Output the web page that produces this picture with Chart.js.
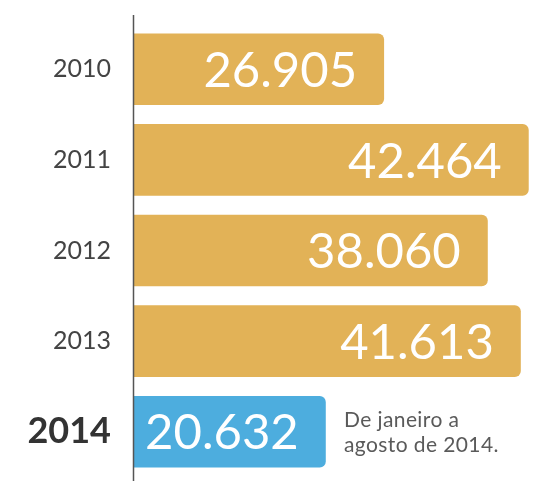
<!DOCTYPE html>
<html>
<head>
<meta charset="utf-8">
<script src="https://cdn.jsdelivr.net/npm/chart.js@4"></script>
<style>
  html, body { margin: 0; padding: 0; background: #fff; }
  #wrap { width: 543px; height: 481px; position: relative; }
</style>
</head>
<body>
<div id="wrap"><canvas id="chart"></canvas></div>
<script>
const years = ['2010', '2011', '2012', '2013', '2014'];
const totals = [26905, 42464, 38060, 41613, 20632];
const barColors = ['#E2B257', '#E2B257', '#E2B257', '#E2B257', '#4DADDE'];
const noteLines = ['De janeiro a', 'agosto de 2014.'];

const fontFamily = 'Lato, "Open Sans", sans-serif';

function fmt(v) {
    return v.toString().replace(/\B(?=(\d{3})+(?!\d))/g, '.');
}

// Values in white near the end of each bar, plus the note beside 2014
const barLabels = {
    id: 'barLabels',
    afterDatasetsDraw(chart) {
        const ctx = chart.ctx;
        const meta = chart.getDatasetMeta(0);
        ctx.save();
        ctx.fillStyle = '#fff';
        ctx.font = '49px ' + fontFamily;
        ctx.textAlign = 'right';
        ctx.textBaseline = 'middle';
        meta.data.forEach((bar, i) => {
            ctx.fillText(fmt(totals[i]), bar.x - 27, bar.y + 2);
        });
        const last = meta.data[meta.data.length - 1];
        ctx.fillStyle = '#5a5a5a';
        ctx.font = '21px ' + fontFamily;
        ctx.letterSpacing = '0.4px';
        ctx.textAlign = 'left';
        ctx.textBaseline = 'alphabetic';
        ctx.fillText(noteLines[0], 344, last.y - 5);
        ctx.fillText(noteLines[1], 344, last.y + 20);
        ctx.restore();
    }
};

// Vertical axis line running a bit past the plot area
const axisLine = {
    id: 'axisLine',
    afterDraw(chart) {
        const ctx = chart.ctx;
        const x = chart.chartArea.left - 0.5;
        ctx.save();
        ctx.strokeStyle = '#555';
        ctx.lineWidth = 1.5;
        ctx.beginPath();
        ctx.moveTo(x, 15);
        ctx.lineTo(x, 481);
        ctx.stroke();
        ctx.restore();
    }
};

const ctxBar = document.getElementById('chart').getContext('2d');
const totalsChart = new Chart(ctxBar, {
    type: 'bar',
    data: {
        labels: years,
        datasets: [{
            data: totals,
            backgroundColor: barColors,
            borderWidth: 0,
            borderRadius: { topRight: 6, bottomRight: 6 },
            borderSkipped: false,
            barPercentage: 0.79,
            categoryPercentage: 1
        }]
    },
    options: {
        indexAxis: 'y',
        responsive: true,
        maintainAspectRatio: false,
        animation: false,
        layout: { padding: { top: 24, bottom: 4, left: 0, right: 0 } },
        plugins: {
            legend: { display: false },
            tooltip: { enabled: false }
        },
        scales: {
            x: {
                display: false,
                min: 0,
                max: 44000
            },
            y: {
                grid: { display: false, drawTicks: false },
                border: { display: false },
                afterFit(scale) {
                    scale.width = 134;
                    scale.paddingTop = 0;
                    scale.paddingBottom = 0;
                },
                ticks: {
                    padding: 23,
                    color: ctx => ctx.index === 4 ? '#333' : '#444',
                    font: ctx => ctx.index === 4
                        ? { family: fontFamily, size: 36, weight: 'bold' }
                        : { family: fontFamily, size: 25 }
                }
            }
        }
    },
    plugins: [barLabels, axisLine]
});
</script>
</body>
</html>
